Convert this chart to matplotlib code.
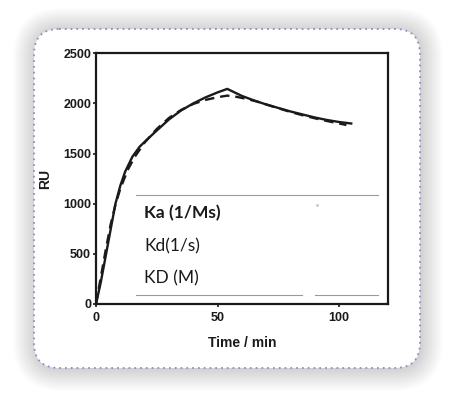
import matplotlib
matplotlib.use("Agg")
import matplotlib.pyplot as plt
from matplotlib.patches import FancyBboxPatch

# measured sensorgram (solid) and fitted model (dashed)
t_meas = [0, 2, 4, 6, 8, 10, 12, 15, 18, 21, 25, 30, 35, 40, 45, 50, 54,
          57, 60, 65, 70, 75, 80, 85, 90, 95, 100, 105]
ru_meas = [0, 220, 480, 740, 1000, 1180, 1320, 1470, 1570, 1640, 1730, 1840,
           1930, 2000, 2060, 2110, 2145, 2110, 2075, 2030, 1990, 1955, 1920,
           1890, 1860, 1835, 1815, 1800]

t_fit = [0, 2, 4, 6, 8, 10, 13, 16, 20, 25, 30, 35, 40, 45, 50, 54,
         58, 62, 66, 70, 75, 80, 85, 90, 95, 100, 103]
ru_fit = [0, 270, 540, 790, 990, 1150, 1335, 1470, 1610, 1745, 1855, 1935,
          1995, 2035, 2062, 2078, 2065, 2045, 2020, 1990, 1952, 1915, 1882,
          1852, 1825, 1800, 1785]

x_ticks = [0, 50, 100]
y_ticks = [0, 500, 1000, 1500, 2000, 2500]
table_rows = ["Ka (1/Ms)", "Kd(1/s)", "KD (M)"]

W, H = 457, 393
fig = plt.figure(figsize=(W / 100, H / 100), dpi=100)
fig.patch.set_facecolor("white")

# background card in pixel coordinates
bg = fig.add_axes([0, 0, 1, 1])
bg.set_xlim(0, W)
bg.set_ylim(H, 0)
bg.axis("off")

cx, cy, cw, ch = 34, 29, 386, 339
for i in range(24, 0, -1):
    sh = FancyBboxPatch((cx + 3 - i, cy + 3 - i), cw + 2 * i - 4, ch + 2 * i - 4,
                        boxstyle="round,pad=0,rounding_size=%d" % (25 + i),
                        facecolor="#000000", edgecolor="none", alpha=0.009)
    bg.add_patch(sh)
card = FancyBboxPatch((cx, cy), cw, ch, boxstyle="round,pad=0,rounding_size=25",
                      facecolor="white", edgecolor="#8e8ec4", linewidth=1.3,
                      linestyle=(0, (1, 2.2)))
bg.add_patch(card)

# main plot
ax = fig.add_axes([96 / W, 1 - 304 / H, (387.7 - 96) / W, (304 - 53.3) / H])
ax.set_facecolor("none")
ax.plot(t_meas, ru_meas, color="#1a1a1a", lw=1.7, solid_joinstyle="miter")
ax.plot(t_fit, ru_fit, color="#1a1a1a", lw=1.7, ls=(0, (4, 2.5)))
ax.set_xlim(0, 120)
ax.set_ylim(0, 2500)
ax.set_xticks(x_ticks)
ax.set_yticks(y_ticks)
for s in ax.spines.values():
    s.set_linewidth(1.6)
    s.set_color("#1a1a1a")
ax.tick_params(direction="out", length=2.5, width=1.2, pad=1,
               labelsize=9, colors="#1a1a1a")
for lab in ax.get_xticklabels() + ax.get_yticklabels():
    lab.set_fontfamily("Liberation Sans")
    lab.set_fontweight("bold")
ax.tick_params(axis="x", pad=3)
ax.set_xlabel("Time / min", fontfamily="Liberation Sans", fontweight="bold",
              fontsize=10, color="#1a1a1a", labelpad=9)
ax.set_ylabel("RU", fontfamily="Liberation Sans", fontweight="bold",
              fontsize=10, color="#1a1a1a", labelpad=8)

# overlaid parameter table
ov = fig.add_axes([0, 0, 1, 1])
ov.set_xlim(0, W)
ov.set_ylim(H, 0)
ov.axis("off")
ov.plot([136, 378], [195, 195], color="#9a9a9a", lw=0.8)
ov.plot([136, 302], [294.5, 294.5], color="#9a9a9a", lw=0.8)
ov.plot([315, 378], [294.5, 294.5], color="#9a9a9a", lw=0.8)
ov.plot([317], [205], marker="s", ms=1, color="#cccccc")
row_y = [213, 246, 278]
for i, (txt, yy) in enumerate(zip(table_rows, row_y)):
    ov.text(144, yy, txt, fontfamily="Lato", fontsize=12.5, va="center",
            ha="left", color="#1a1a1a",
            fontweight="bold" if i == 0 else "normal")

fig.savefig("out.png", dpi=100)
